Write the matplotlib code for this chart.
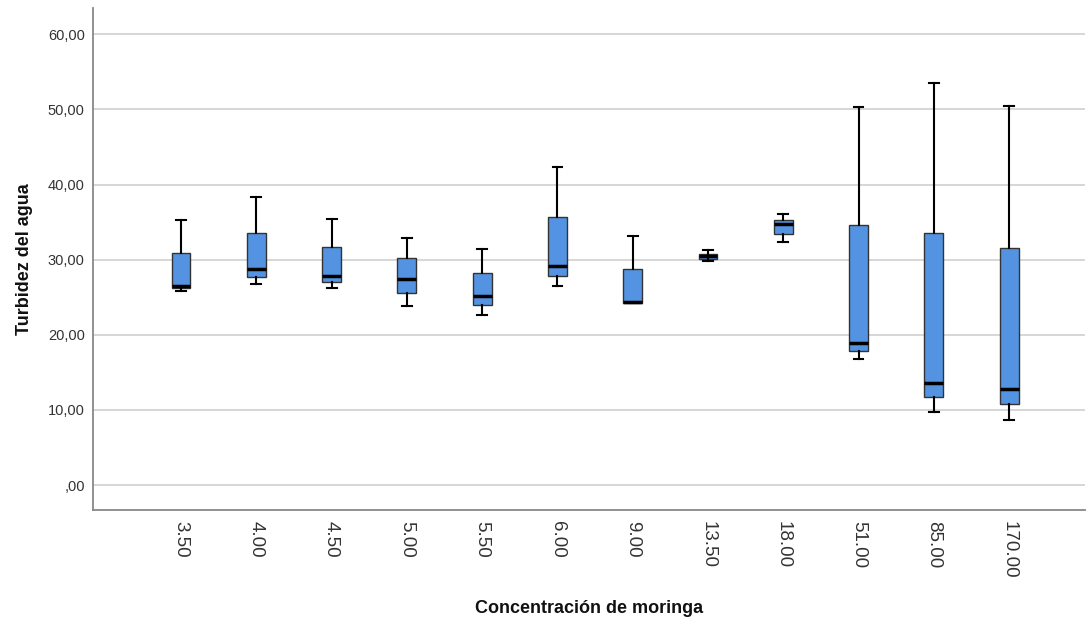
import matplotlib
matplotlib.use("Agg")
import matplotlib.pyplot as plt
from matplotlib.ticker import FixedLocator, FuncFormatter

plt.rcParams['font.family'] = ['Liberation Sans', 'DejaVu Sans']

categories = ["3.50", "4.00", "4.50", "5.00", "5.50", "6.00", "9.00",
              "13.50", "18.00", "51.00", "85.00", "170.00"]
whisker_low = [25.85, 26.74, 26.25, 23.86, 22.66, 26.56, 24.17, 29.89, 32.29, 16.80, 9.75, 8.65]
q1 = [26.20, 27.71, 27.00, 25.63, 23.95, 27.80, 24.26, 30.10, 33.48, 17.87, 11.66, 10.73]
median = [26.50, 28.73, 27.85, 27.45, 25.19, 29.13, 24.39, 30.46, 34.72, 18.93, 13.61, 12.73]
q3 = [30.90, 33.57, 31.66, 30.20, 28.25, 35.70, 28.82, 30.82, 35.35, 34.59, 33.57, 31.49]
whisker_high = [35.25, 38.35, 35.47, 32.95, 31.44, 42.35, 33.21, 31.26, 36.14, 50.33, 53.52, 50.51]
y_ticks = [0, 10, 20, 30, 40, 50, 60]

fig = plt.figure(figsize=(10.87, 6.21), dpi=100)
ax = fig.add_axes([0.0856, 0.1787, 0.9124, 0.8083])

stats = []
for i, c in enumerate(categories):
    stats.append(dict(label=c, whislo=whisker_low[i], q1=q1[i], med=median[i],
                      q3=q3[i], whishi=whisker_high[i], fliers=[]))

ax.bxp(stats, positions=range(len(categories)), widths=0.25, patch_artist=True,
       showfliers=False,
       boxprops=dict(facecolor='#5393E2', edgecolor='#333333', linewidth=1.0),
       medianprops=dict(color='black', linewidth=2.5),
       whiskerprops=dict(color='black', linewidth=1.5),
       capprops=dict(color='black', linewidth=1.5),
       capwidths=0.13, zorder=3)

ax.set_xlim(-1.169, 12.005)
ax.set_ylim(-3.33, 63.5)

ax.yaxis.set_major_locator(FixedLocator(y_ticks))
ax.yaxis.set_major_formatter(FuncFormatter(
    lambda v, p: ',00' if v == 0 else f'{int(v)},00'))
ax.grid(axis='y', color='#d3d3d3', linewidth=1.3, zorder=0)
ax.set_axisbelow(True)

ax.set_xticks(range(len(categories)))
ax.set_xticklabels(categories, rotation=-90, fontsize=13.5, color='#333333',
                   va='top', ha='center')
ax.tick_params(axis='x', length=0, pad=8)
ax.tick_params(axis='y', length=0, pad=6, labelsize=10.5, labelcolor='#333333')

for s in ['top', 'right']:
    ax.spines[s].set_visible(False)
for s in ['left', 'bottom']:
    ax.spines[s].set_color('#888888')
    ax.spines[s].set_linewidth(1.3)

ax.set_xlabel('Concentración de moringa', fontsize=13, fontweight='bold', labelpad=15,
              color='#111111')
ax.set_ylabel('Turbidez del agua', fontsize=13, fontweight='bold', labelpad=11,
              color='#111111')

fig.savefig('out.png', dpi=100)
